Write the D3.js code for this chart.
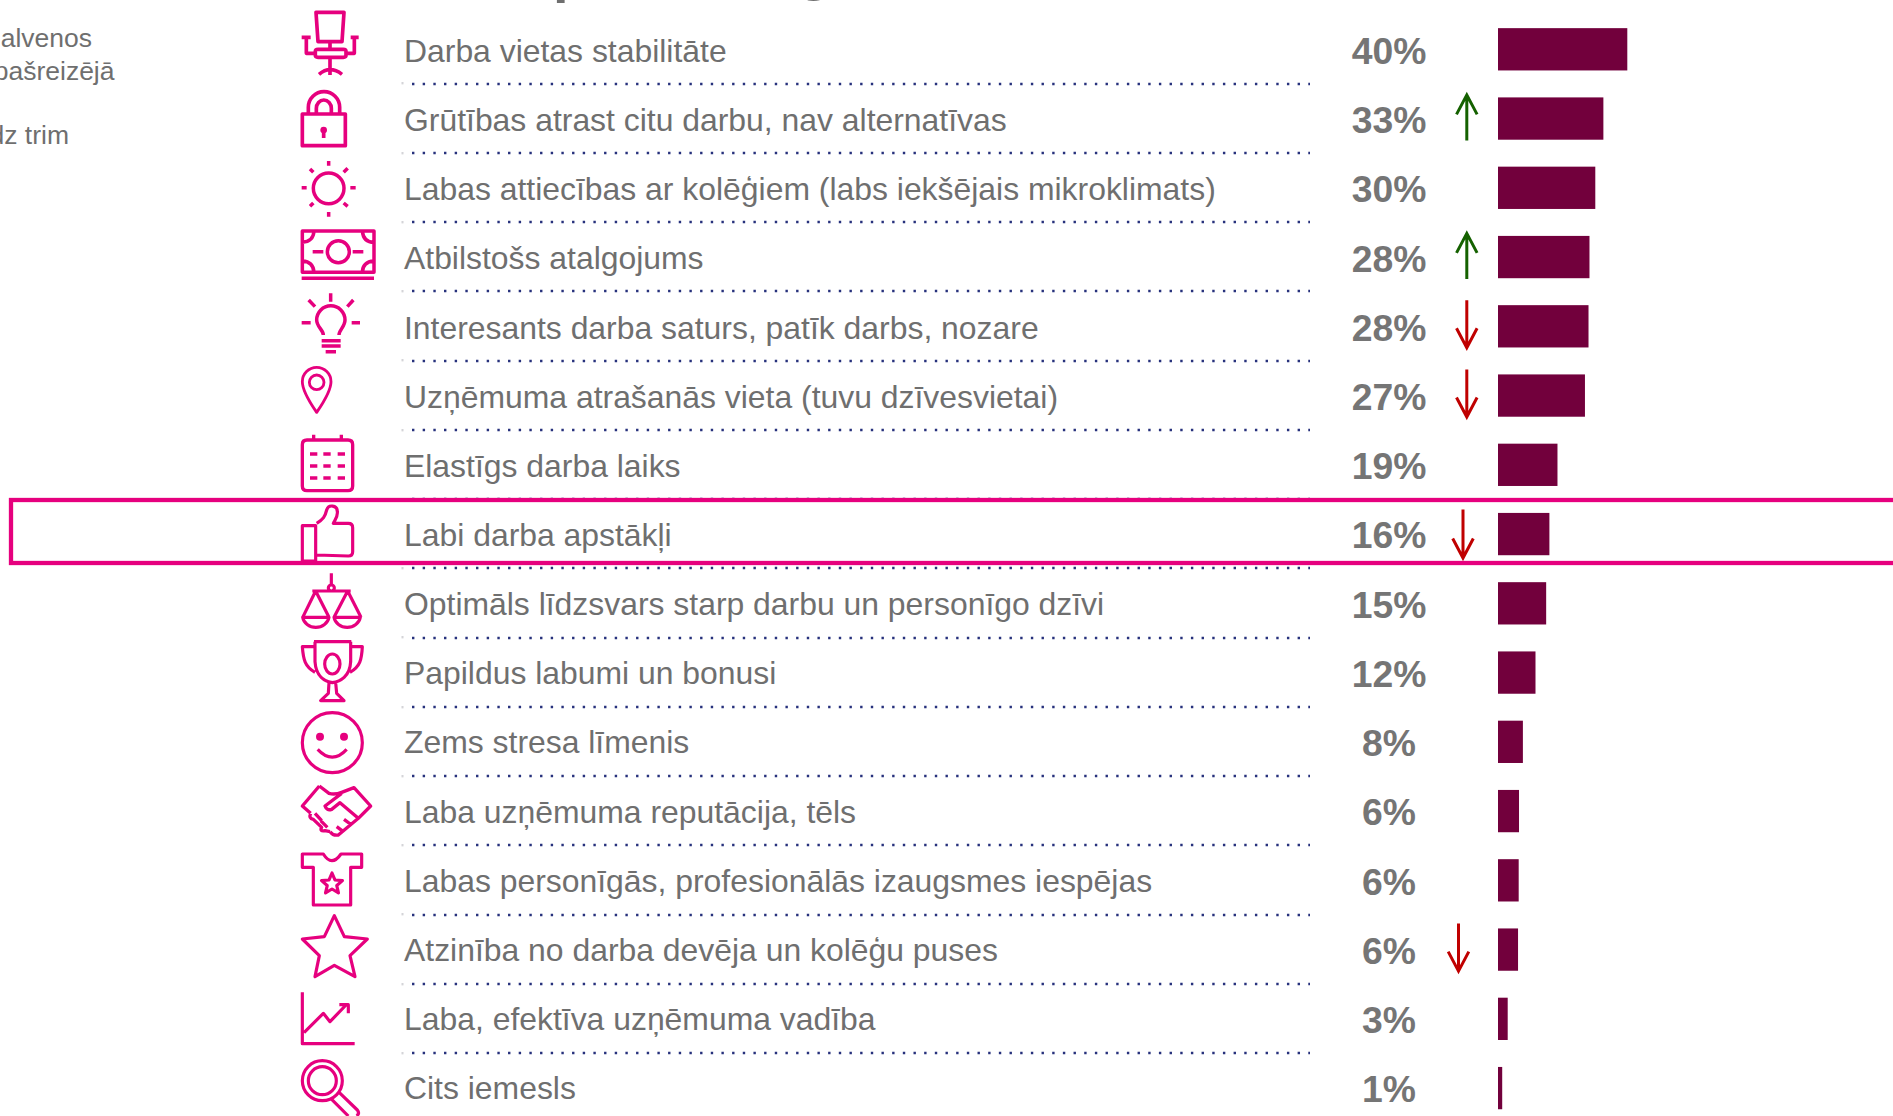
<!DOCTYPE html>
<html lang="lv">
<head>
<meta charset="utf-8">
<title>Darba vietas iemesli</title>
<script src="https://cdnjs.cloudflare.com/ajax/libs/d3/7.8.5/d3.min.js"></script>
<style>
html,body{margin:0;padding:0;background:#fff;overflow:hidden}
svg{display:block}
text{font-family:"Liberation Sans",Arial,sans-serif}
</style>
</head>
<body>
<svg id="chart" width="1893" height="1116"></svg>
<script>
const categories = [
  "Darba vietas stabilitāte",
  "Grūtības atrast citu darbu, nav alternatīvas",
  "Labas attiecības ar kolēģiem (labs iekšējais mikroklimats)",
  "Atbilstošs atalgojums",
  "Interesants darba saturs, patīk darbs, nozare",
  "Uzņēmuma atrašanās vieta (tuvu dzīvesvietai)",
  "Elastīgs darba laiks",
  "Labi darba apstākļi",
  "Optimāls līdzsvars starp darbu un personīgo dzīvi",
  "Papildus labumi un bonusi",
  "Zems stresa līmenis",
  "Laba uzņēmuma reputācija, tēls",
  "Labas personīgās, profesionālās izaugsmes iespējas",
  "Atzinība no darba devēja un kolēģu puses",
  "Laba, efektīva uzņēmuma vadība",
  "Cits iemesls"
];
const values = [40, 32.6, 30.1, 28.3, 28, 26.9, 18.4, 15.9, 14.9, 11.6, 7.7, 6.5, 6.4, 6.2, 3, 1.3];
const valueLabels = ["40%","33%","30%","28%","28%","27%","19%","16%","15%","12%","8%","6%","6%","6%","3%","1%"];
const upRows = [1, 3];
const downRows = [4, 5, 7, 13];
const arrowShift = {7: -3.8, 13: -8.3};
const sideNote = [["galvenos", 92, 47.3], ["pašreizējā", 114.5, 79.5], ["līdz trim", 69, 144]];

const PINK = "#e6007e", GREY = "#6f6f6f";
const svg = d3.select("#chart");
const y = d3.scaleLinear().domain([0, 15]).range([49.3, 1088.1]);
const labelY = d3.scaleLinear().domain([0, 15]).range([62, 1099.1]);
const valueY = d3.scaleLinear().domain([0, 15]).range([64, 1102.2]);
const x = d3.scaleLinear().domain([0, 40]).range([1498, 1627.3]);
const barH = 42.3;

// clipped title descenders
svg.append("g").attr("fill", GREY).attr("font-weight", "bold").attr("font-size", 56)
  .selectAll("text").data([["p", 553, -9], ["g", 797, -11]]).join("text")
  .attr("x", d => d[1]).attr("y", d => d[2]).text(d => d[0]);

// side note
svg.append("g").attr("fill", GREY).attr("font-size", 26.5).attr("text-anchor", "end")
  .selectAll("text").data(sideNote).join("text")
  .attr("x", d => d[1]).attr("y", d => d[2]).text(d => d[0]);

// dotted separators
const seps = svg.append("g");
seps.selectAll("line.dots").data(categories.slice(0, 15)).join("line")
  .attr("class", "dots")
  .attr("x1", 412).attr("x2", 1310)
  .attr("y1", (d, i) => Math.round(y(i) + 34.2)).attr("y2", (d, i) => Math.round(y(i) + 34.2))
  .attr("stroke", "#27317c").attr("stroke-width", 2.4).attr("stroke-dasharray", "2.4 8.27");
seps.selectAll("rect.tick").data(categories.slice(0, 15)).join("rect")
  .attr("class", "tick")
  .attr("x", 401.5).attr("width", 2).attr("height", 2.4)
  .attr("y", (d, i) => Math.round(y(i) + 33)).attr("fill", "#d4d4d8");

// labels
svg.append("g").attr("fill", GREY).attr("font-size", 31.9)
  .selectAll("text").data(categories).join("text")
  .attr("x", 404).attr("y", (d, i) => labelY(i)).text(d => d);

// percent values
svg.append("g").attr("fill", "#757575").attr("font-size", 37.3).attr("font-weight", "bold").attr("text-anchor", "middle")
  .selectAll("text").data(valueLabels).join("text")
  .attr("x", 1389).attr("y", (d, i) => valueY(i)).text(d => d);

// bars
svg.append("g").attr("fill", "#72003c")
  .selectAll("rect").data(values).join("rect")
  .attr("x", x(0)).attr("width", d => x(d) - x(0))
  .attr("y", (d, i) => y(i) - barH / 2).attr("height", barH);

// trend arrows
function arrow(i, up) {
  const cx = 1466.8 + (arrowShift[i] || 0), cy = y(i);
  const top = cy + (up ? -24.7 : (i === 7 ? -24.5 : -26)), bottom = cy + (up ? 22 : (i === 7 ? 25 : 22.5));
  const g = svg.append("g").attr("fill", "none")
    .attr("stroke", up ? "#156100" : "#c00000").attr("stroke-width", 3);
  const path = d3.path();
  path.moveTo(cx, up ? bottom : top);
  path.lineTo(cx, up ? top + 2 : bottom - 2);
  const tip = up ? top + 1 : bottom - 1, back = up ? tip + 19.5 : tip - 19.5;
  path.moveTo(cx - 10.3, back); path.lineTo(cx, tip); path.lineTo(cx + 10.3, back);
  g.append("path").attr("d", path.toString());
}
upRows.forEach(i => arrow(i, true));
downRows.forEach(i => arrow(i, false));

// highlight frame
svg.append("rect")
  .attr("x", 11).attr("y", 500).attr("width", 1960).attr("height", 63)
  .attr("fill", "none").attr("stroke", PINK).attr("stroke-width", 4.3);

// icons: paths are drawn at 3x inside a small crop-box frame
const star = (cx, cy, R, r) => d3.range(10).map(k => {
  const a = -Math.PI / 2 + k * Math.PI / 5, q = k % 2 ? r : R;
  return (k ? "L" : "M") + (cx + q * Math.cos(a)).toFixed(1) + "," + (cy + q * Math.sin(a)).toFixed(1);
}).join("") + "Z";

const icons = [
  {o: [290, 0], w: 11, d: "M78,37H162L156,125H84ZM120,125V148M84,148H160Q168,148 168,154V166Q168,172 160,172H84Q76,172 76,166V154Q76,148 84,148ZM35,112H62M49,112V160H76M182,112H206M193,112V160H168M120,172V225M87,223Q120,195 156,223"},
  {o: [290, 0], w: 11, d: "M37,342H166V437H37ZM55,342V322A47,47 0 0 1 149,322V342M79,342V325A22.5,25 0 0 1 124,325V342M101,390V414", fill: [[101, 390, 10]]},
  {o: [290, 0], w: 10.5, d: "M116,483V497M116,636V650M181,563H197M35,563H50M60,507L70,517M173,505L161,517M60,619L70,609M173,619L161,609M70,565A46,46 0 1 1 162,565A46,46 0 1 1 70,565Z"},
  {o: [290, 180], w: 10.5, d: "M37,153H252V277H37ZM35,295H252M112,215A33,33 0 1 1 178,215A33,33 0 1 1 112,215ZM68,215H100M188,215H220M37,187Q70,185 72,153M217,153Q220,187 252,187M37,243Q70,245 72,277M252,243Q218,245 217,277"},
  {o: [290, 180], w: 10.5, d: "M122,340V365M56,360L75,380M190,360L172,380M35,428H62M185,428H210M100,465C100,450 80,440 80,420A42.5,42.5 0 1 1 165,420C165,440 147,450 147,465M95,482H152M95,498H152M107,515H138"},
  {o: [280, 360], w: 8.5, d: "M110,157C95,135 67,95 67,65A43,43 0 1 1 153,65C153,95 125,135 110,157ZM88,67A22,22 0 1 1 132,67A22,22 0 1 1 88,67Z"},
  {o: [280, 360], w: 10, d: "M81,240H204Q218,240 218,254V378Q218,392 204,392H81Q67,392 67,378V254Q67,240 81,240ZM101,224V240M184,224V240M90,282H112M130,282H152M173,282H195M90,318H112M130,318H152M173,318H195M90,354H112M130,354H152M173,354H195"},
  {o: [280, 360], w: 9.5, d: "M67,497H107V603H67ZM110,490C130,478 135,470 140,450C145,432 172,435 172,455C174,470 165,480 160,490H205Q218,490 218,503V575Q218,588 205,588L110,585"},
  {o: [280, 360], w: 9.5, d: "M154,640V675M145,684A9,9 0 1 1 163,684A9,9 0 1 1 145,684ZM97,693H212M107,693L68,772M107,693L147,772M68,772H147A40,36 0 0 1 68,772ZM203,693L162,772M203,693L243,772M162,772H241A40,36 0 0 1 162,772Z"},
  {o: [280, 360], w: 9.5, d: "M102,845H214M102,860H67C70,900 75,920 105,937M214,860H247C245,900 240,920 210,937M105,845V905C108,950 135,965 157,968C180,965 210,950 212,905V845M134,912A23,30 0 1 1 180,912A23,30 0 1 1 134,912ZM147,968L145,1000L122,1022H192L170,1000L167,968"},
  {o: [280, 730], w: 9.5, d: "M67,38A90,90 0 1 1 247,38A90,90 0 1 1 67,38ZM113,58Q157,105 200,58", fill: [[120, 20, 12], [192, 20, 12]]},
  {o: [280, 730], w: 10, d: "M118,168L67,228L92,250M118,168L147,190Q165,195 185,187L222,173L272,228L235,265M185,190L135,228Q140,243 155,238L180,218L235,265L175,315Q160,318 150,305M192,268L215,285M170,290L190,305M92,250Q85,265 100,268L125,292Q118,305 135,302L150,305M105,250L125,272M122,272L142,292"},
  {o: [280, 730], w: 9.5, d: "M67,372H130Q155,412 183,372H245V412H212V525H100V412H67Z" + star(156, 462, 33, 15)},
  {o: [280, 730], w: 9.5, d: "M163,557L193,620L262,627L210,677L225,740L163,706L105,740L118,677L67,627L133,620Z"},
  {o: [280, 730], w: 9.5, d: "M67,787V941H224M72,908L130,850L150,875L198,825M178,824H205V850"},
  {o: [280, 730], w: 9.5, d: "M67,1052A60,60 0 1 1 187,1052A60,60 0 1 1 67,1052ZM85,1052A42,42 0 1 1 169,1052A42,42 0 1 1 85,1052ZM175,1085L232,1140Q240,1150 230,1158M152,1105L205,1158"}
];
const iconG = svg.append("g").selectAll("g").data(icons).join("g")
  .attr("transform", d => `translate(${d.o[0]},${d.o[1]}) scale(${1 / 3})`);
iconG.append("path").attr("d", d => d.d).attr("fill", "none").attr("stroke", PINK)
  .attr("stroke-width", d => d.w).attr("stroke-linejoin", "round");
iconG.selectAll("circle").data(d => d.fill || []).join("circle")
  .attr("cx", d => d[0]).attr("cy", d => d[1]).attr("r", d => d[2]).attr("fill", PINK);
</script>
</body>
</html>
